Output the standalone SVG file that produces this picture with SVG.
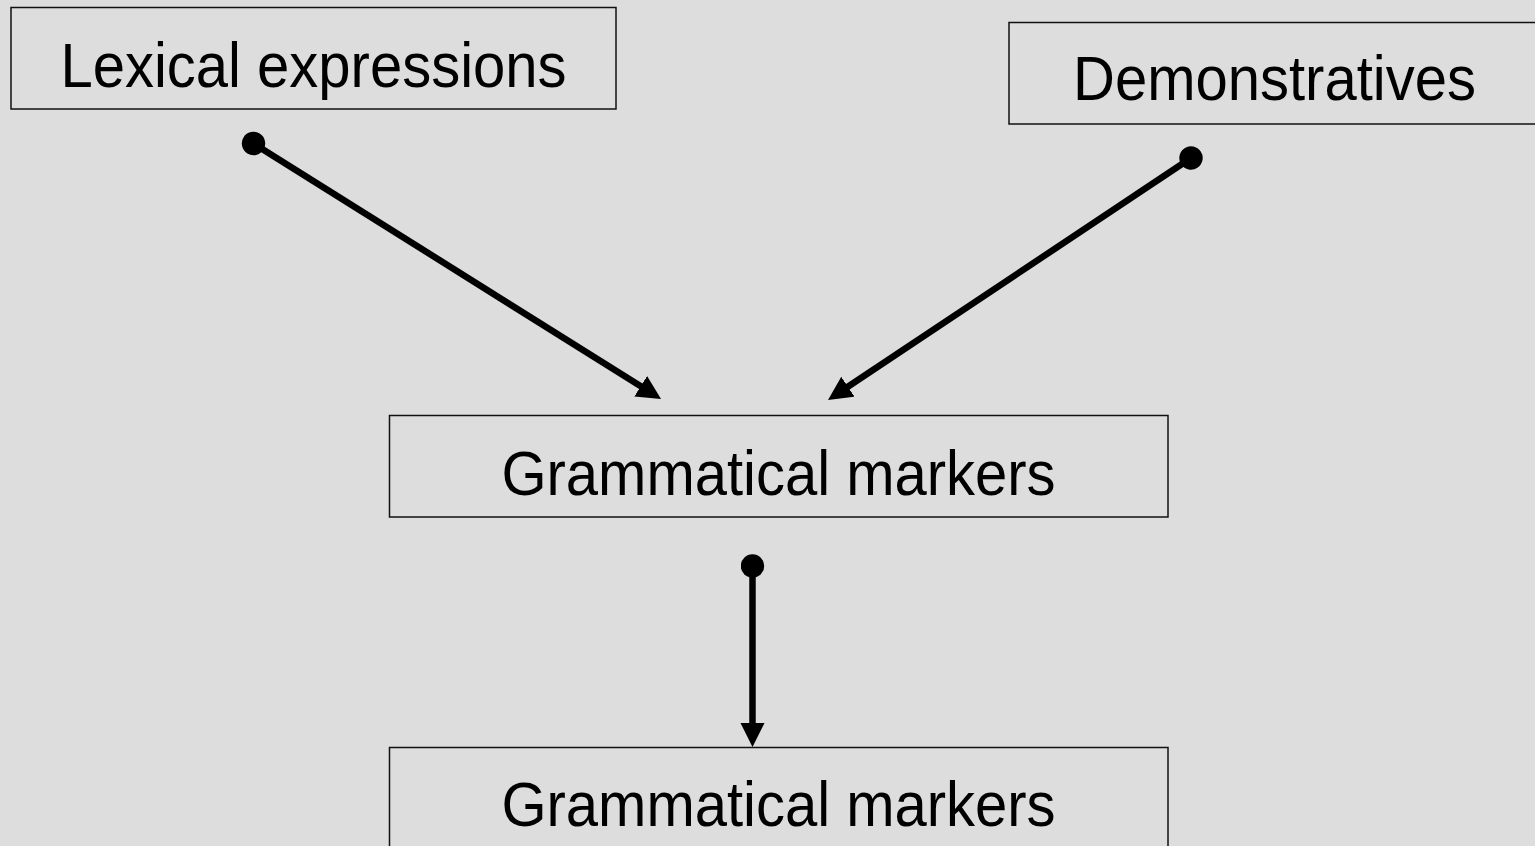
<svg xmlns="http://www.w3.org/2000/svg" width="1535" height="846" viewBox="0 0 1535 846">
  <style>
    .box { fill: none; stroke: #111; stroke-width: 1.5; }
    .lbl { font-family: "Liberation Sans", Arial, sans-serif; font-size: 58px; fill: #000; text-anchor: middle; }
    .conn { stroke: #000; stroke-width: 6.5; fill: none; marker-start: url(#dot); marker-end: url(#arrow); }
  </style>
  <defs>
    <marker id="arrow" markerUnits="userSpaceOnUse" markerWidth="26" markerHeight="26" refX="2" refY="12" orient="auto" viewBox="0 0 26 26">
      <path d="M0,0 L24,12 L0,24 z" fill="#000"/>
    </marker>
    <marker id="dot" markerUnits="userSpaceOnUse" markerWidth="24" markerHeight="24" refX="12" refY="12" orient="auto" viewBox="0 0 24 24">
      <circle cx="12" cy="12" r="11.7" fill="#000"/>
    </marker>
  </defs>
  <rect width="1535" height="846" fill="#dddddd"/>
  <g id="node-lexical">
    <rect class="box" x="11" y="7.5" width="605" height="101.5"/>
    <text class="lbl" transform="translate(313.5,87) scale(1,1.07)">Lexical expressions</text>
  </g>
  <g id="node-demonstratives">
    <rect class="box" x="1009" y="22.5" width="532" height="101.5"/>
    <text class="lbl" transform="translate(1274.5,100) scale(1,1.07)">Demonstratives</text>
  </g>
  <g id="node-grammatical-1">
    <rect class="box" x="389.5" y="415.5" width="778.5" height="101.5"/>
    <text class="lbl" transform="translate(778.5,495) scale(1,1.07)">Grammatical markers</text>
  </g>
  <g id="node-grammatical-2">
    <rect class="box" x="389.5" y="747.5" width="778.5" height="110"/>
    <text class="lbl" transform="translate(778.5,826) scale(1,1.07)">Grammatical markers</text>
  </g>
  <g id="connectors">
    <line class="conn" x1="253.5" y1="143.5" x2="642.4" y2="387.3"/>
    <line class="conn" x1="1191" y1="158" x2="846.3" y2="387.8"/>
    <line class="conn" x1="752.5" y1="566" x2="752.5" y2="725"/>
  </g>
</svg>
